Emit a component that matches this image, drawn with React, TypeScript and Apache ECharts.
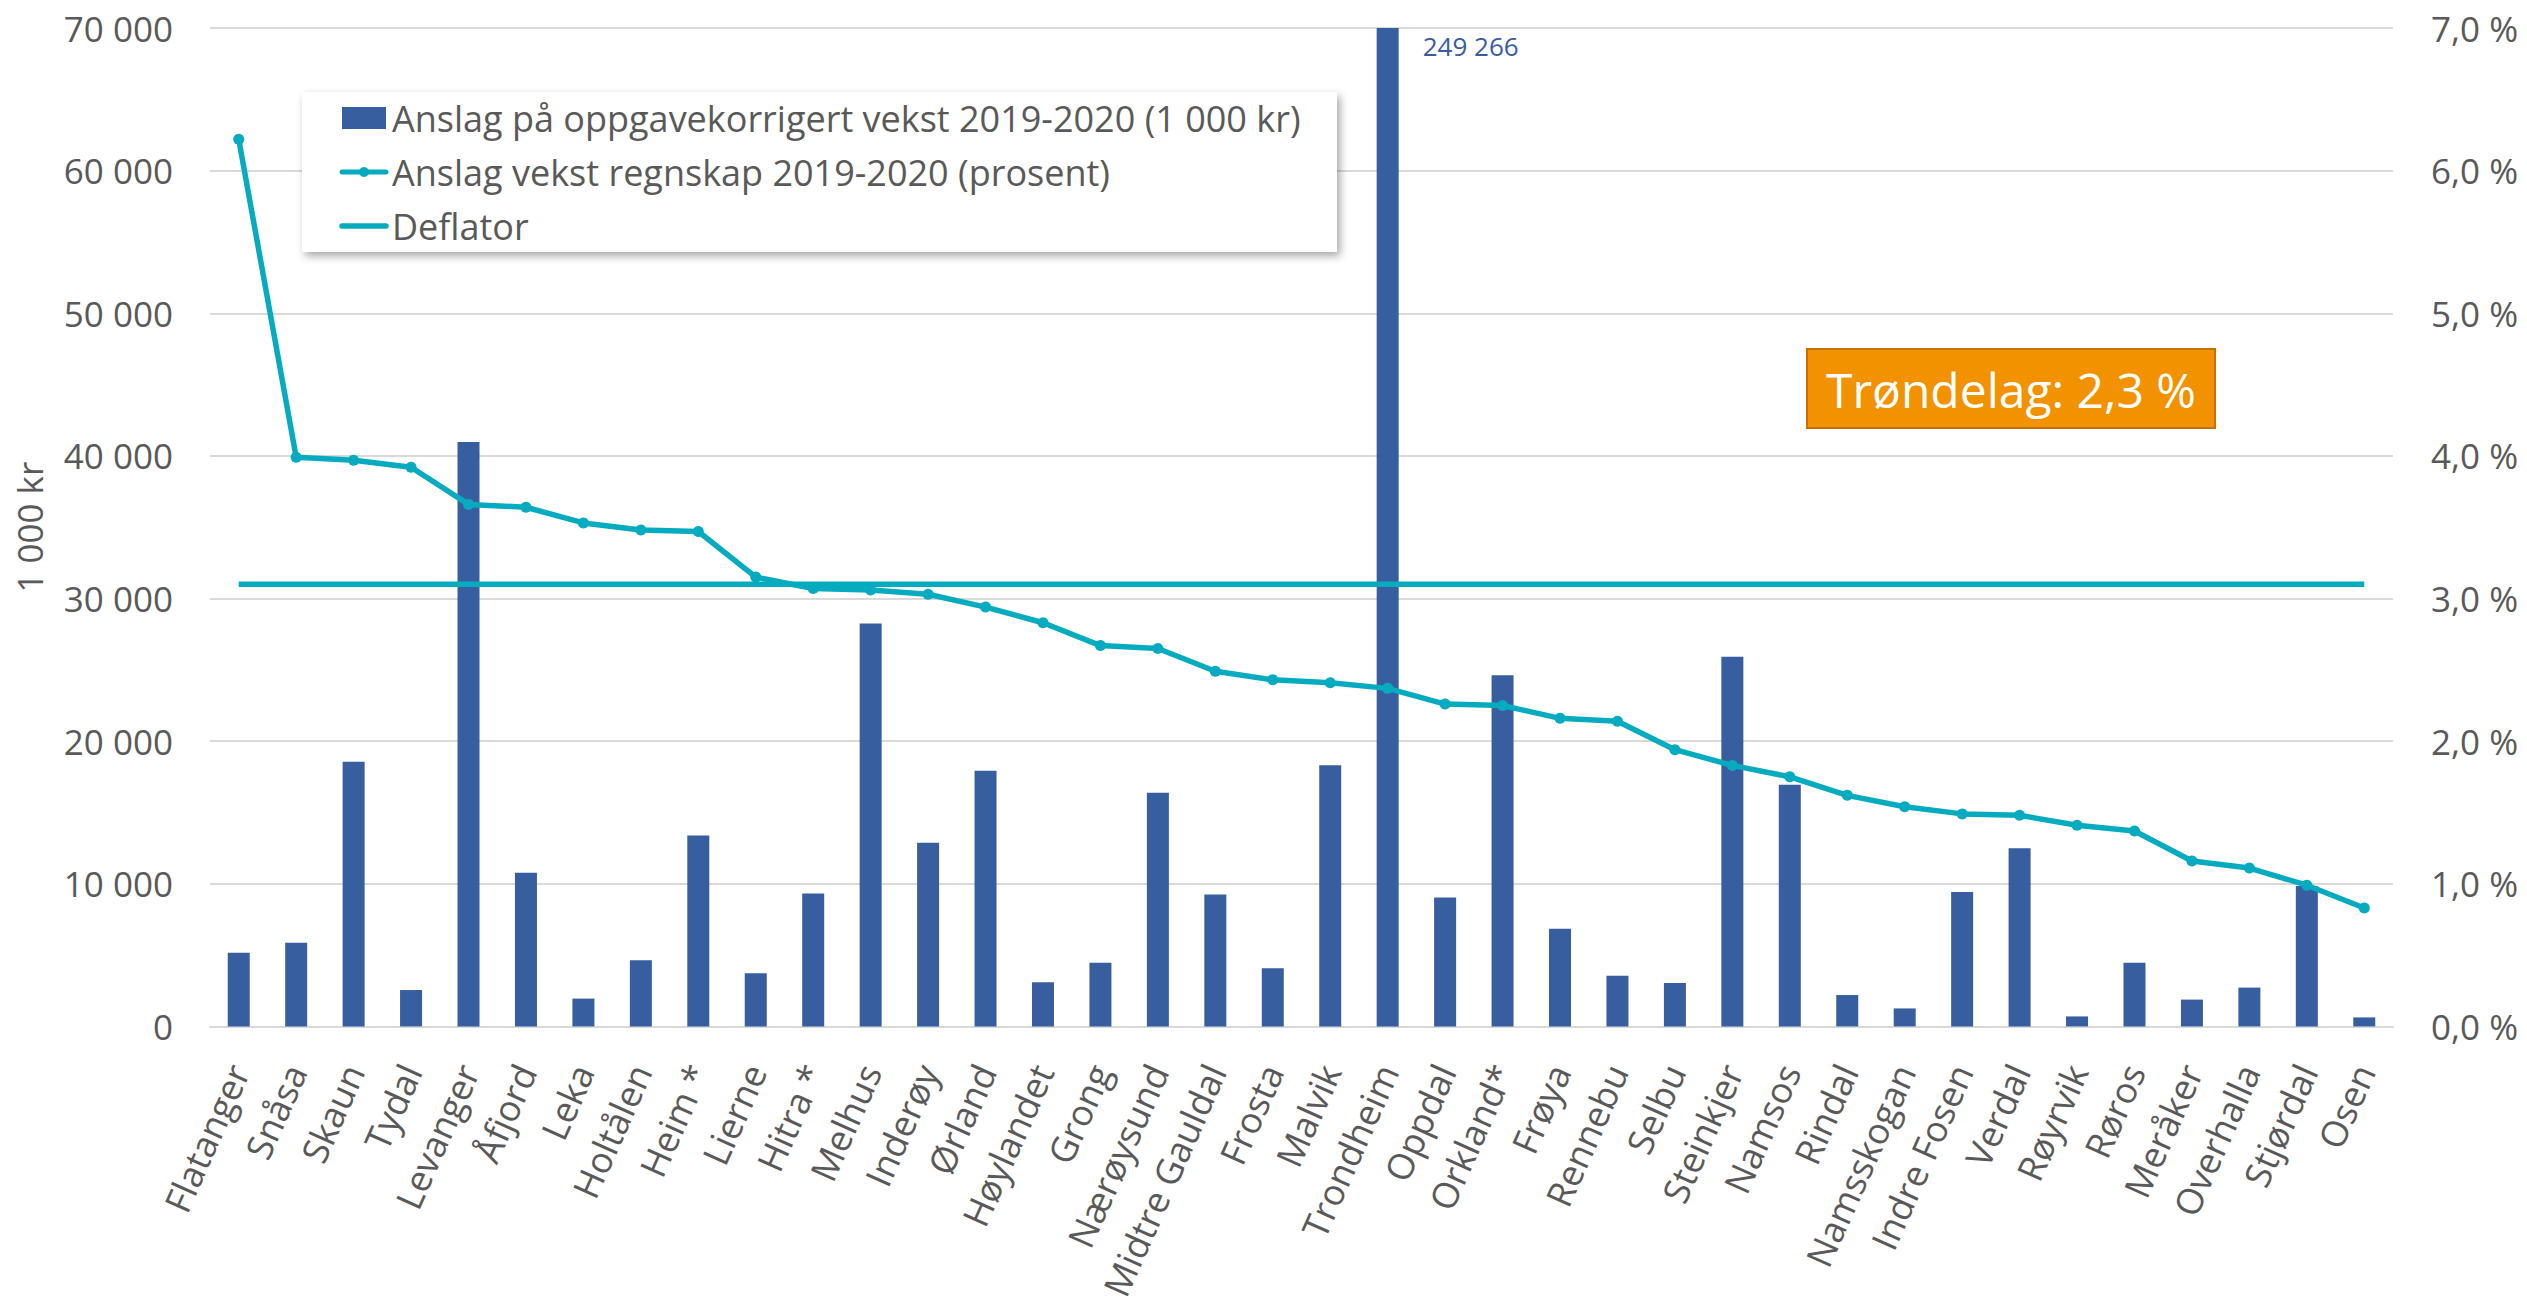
import React, { useEffect, useRef } from "react";
import * as echarts from "echarts";

const categories = [
  "Flatanger", "Snåsa", "Skaun", "Tydal", "Levanger", "Åfjord", "Leka", "Holtålen", "Heim *", "Lierne",
  "Hitra *", "Melhus", "Inderøy", "Ørland", "Høylandet", "Grong", "Nærøysund", "Midtre Gauldal", "Frosta", "Malvik",
  "Trondheim", "Oppdal", "Orkland*", "Frøya", "Rennebu", "Selbu", "Steinkjer", "Namsos", "Rindal", "Namsskogan",
  "Indre Fosen", "Verdal", "Røyrvik", "Røros", "Meråker", "Overhalla", "Stjørdal", "Osen",
];

// Anslag på oppgavekorrigert vekst 2019-2020 (1 000 kr)
const growthKr = [
  5160, 5860, 18560, 2550, 40980, 10780, 1950, 4640, 13390, 3730,
  9310, 28250, 12870, 17930, 3100, 4470, 16390, 9240, 4080, 18310,
  249266, 9030, 24620, 6840, 3560, 3040, 25920, 16950, 2200, 1260,
  9420, 12490, 700, 4470, 1880, 2720, 9840, 630,
];

// Anslag vekst regnskap 2019-2020 (prosent)
const growthPct = [
  6.22, 3.99, 3.97, 3.92, 3.66, 3.64, 3.53, 3.48, 3.47, 3.15,
  3.07, 3.06, 3.03, 2.94, 2.83, 2.67, 2.65, 2.49, 2.43, 2.41,
  2.37, 2.26, 2.25, 2.16, 2.14, 1.94, 1.83, 1.75, 1.62, 1.54,
  1.49, 1.48, 1.41, 1.37, 1.16, 1.11, 0.99, 0.83,
];

const deflatorPct = 3.1;
const regionText = "Trøndelag: 2,3 %";
const seriesNames = [
  "Anslag på oppgavekorrigert vekst 2019-2020 (1 000 kr)",
  "Anslag vekst regnskap 2019-2020 (prosent)",
  "Deflator",
];
const yAxisName = "1 000 kr";

const FONT = "'Open Sans', sans-serif";
const GREY = "#595959";
const BLUE = "#375E9F";
const TEAL = "#07ABBF";

const fmtThousands = (v: number) =>
  String(Math.round(v)).replace(/\B(?=(\d{3})+(?!\d))/g, " ");
const fmtPct = (v: number) => v.toFixed(1).replace(".", ",") + " %";

export default function App() {
  const ref = useRef<HTMLDivElement>(null);

  useEffect(() => {
    if (!ref.current) return;
    const chart = echarts.init(ref.current, undefined, { renderer: "svg" });

    const barData = growthKr.map((v, i) =>
      categories[i] === "Trondheim"
        ? {
            value: v,
            label: {
              show: true,
              position: ["100%", 0],
              offset: [24, 5],
              align: "left",
              verticalAlign: "top",
              formatter: (p: any) => fmtThousands(p.value),
              color: "#3A5DA0",
              fontSize: 26,
              fontFamily: FONT,
            },
          }
        : v
    );

    const legendTextStyle = {
      fill: GREY,
      font: `36px ${FONT}`,
      verticalAlign: "middle",
      align: "left",
    };

    chart.setOption({
      animation: false,
      backgroundColor: "#ffffff",
      grid: { left: 210, right: 134, top: 28, bottom: 277, containLabel: false },
      xAxis: {
        type: "category",
        data: categories,
        boundaryGap: true,
        axisTick: { show: false },
        axisLine: { show: true, lineStyle: { color: "#D9D9D9", width: 2 } },
        axisLabel: {
          interval: 0,
          rotate: 66,
          margin: 40,
          color: GREY,
          fontSize: 36,
          fontFamily: FONT,
        },
      },
      yAxis: [
        {
          type: "value",
          min: 0,
          max: 70000,
          interval: 10000,
          name: yAxisName,
          nameLocation: "middle",
          nameGap: 163,
          nameTextStyle: { color: GREY, fontSize: 35, fontFamily: FONT },
          axisLine: { show: false },
          axisTick: { show: false },
          axisLabel: {
            margin: 37,
            color: GREY,
            fontSize: 35,
            fontFamily: FONT,
            formatter: (v: number) => fmtThousands(v),
          },
          splitLine: { show: true, lineStyle: { color: "#D9D9D9", width: 2 } },
        },
        {
          type: "value",
          min: 0,
          max: 7,
          interval: 1,
          position: "right",
          axisLine: { show: false },
          axisTick: { show: false },
          axisLabel: {
            margin: 38,
            color: GREY,
            fontSize: 35,
            fontFamily: FONT,
            formatter: (v: number) => fmtPct(v),
          },
          splitLine: { show: false },
        },
      ],
      series: [
        {
          name: seriesNames[0],
          type: "bar",
          data: barData,
          barWidth: 22,
          clip: true,
          itemStyle: { color: BLUE },
          z: 2,
        },
        {
          name: seriesNames[2],
          type: "line",
          yAxisIndex: 1,
          data: categories.map(() => deflatorPct),
          symbol: "none",
          lineStyle: { color: TEAL, width: 5.5 },
          itemStyle: { color: TEAL },
          z: 3,
        },
        {
          name: seriesNames[1],
          type: "line",
          yAxisIndex: 1,
          data: growthPct,
          symbol: "circle",
          symbolSize: 11,
          showSymbol: true,
          lineStyle: { color: TEAL, width: 5.5 },
          itemStyle: { color: TEAL },
          z: 4,
        },
      ],
      graphic: [
        {
          type: "rect",
          shape: { x: 302, y: 92, width: 1035, height: 160 },
          style: {
            fill: "#ffffff",
            shadowBlur: 8,
            shadowColor: "rgba(0,0,0,0.35)",
            shadowOffsetX: 3,
            shadowOffsetY: 4,
          },
          z: 10,
        },
        {
          type: "rect",
          shape: { x: 342, y: 107, width: 44, height: 22 },
          style: { fill: BLUE },
          z: 11,
        },
        {
          type: "text",
          x: 392,
          y: 118,
          style: { ...legendTextStyle, text: seriesNames[0] },
          z: 11,
        },
        {
          type: "line",
          shape: { x1: 342, y1: 172, x2: 386, y2: 172 },
          style: { stroke: TEAL, lineWidth: 5, lineCap: "round" },
          z: 11,
        },
        {
          type: "circle",
          shape: { cx: 364, cy: 172, r: 5 },
          style: { fill: TEAL },
          z: 11,
        },
        {
          type: "text",
          x: 392,
          y: 172,
          style: { ...legendTextStyle, text: seriesNames[1] },
          z: 11,
        },
        {
          type: "line",
          shape: { x1: 342, y1: 226, x2: 386, y2: 226 },
          style: { stroke: TEAL, lineWidth: 5.5, lineCap: "round" },
          z: 11,
        },
        {
          type: "text",
          x: 392,
          y: 226,
          style: { ...legendTextStyle, text: seriesNames[2] },
          z: 11,
        },
        {
          type: "rect",
          shape: { x: 1807, y: 349, width: 408, height: 79 },
          style: { fill: "#F39200", stroke: "#C47100", lineWidth: 2 },
          z: 10,
        },
        {
          type: "text",
          x: 2011,
          y: 389,
          style: {
            text: regionText,
            fill: "#ffffff",
            font: `48px ${FONT}`,
            align: "center",
            verticalAlign: "middle",
          },
          z: 11,
        },
      ],
    });

    return () => chart.dispose();
  }, []);

  return (
    <div
      ref={ref}
      style={{ position: "fixed", left: 0, top: 0, width: 2527, height: 1304, background: "#fff" }}
    />
  );
}
